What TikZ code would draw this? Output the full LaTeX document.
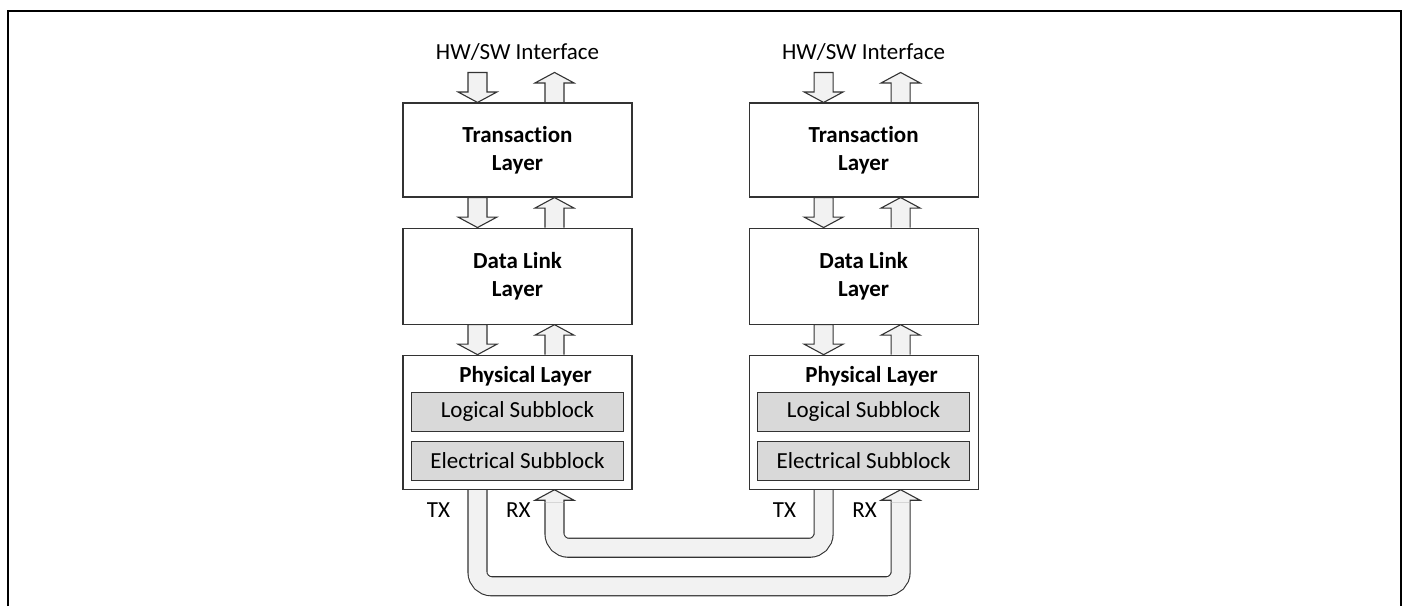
\documentclass[tikz,border=0pt]{standalone}
\usepackage{fontspec}
\setmainfont{Carlito}[Ligatures={NoCommon,NoRare}]
\usetikzlibrary{positioning,calc,backgrounds}
\definecolor{arrowfill}{HTML}{F2F2F2}
\definecolor{subfill}{HTML}{D9D9D9}

\begin{document}
\begin{tikzpicture}[x=1pt,y=1pt,font=\fontsize{11.5}{14}\selectfont,
  layer/.style={draw=black!80,line width=0.55pt,fill=white,minimum width=114.5pt,
    inner sep=0pt,align=center,font=\fontsize{11.5}{14}\selectfont\bfseries},
  subblock/.style={draw=black!80,line width=0.55pt,fill=subfill,minimum width=106pt,
    minimum height=19.5pt,inner sep=0pt},
  fatdown/.style={draw=black!80,line width=0.55pt,fill=arrowfill,
    to path={let \p1=(\tikztostart),\p2=(\tikztotarget) in
      (\x1-4.75pt,\y1) -- (\x1-4.75pt,\y2+5.25pt) -- (\x1-9.75pt,\y2+5.25pt) -- (\x1,\y2)
      -- (\x1+9.75pt,\y2+5.25pt) -- (\x1+4.75pt,\y2+5.25pt) -- (\x1+4.75pt,\y1) -- cycle}},
  fatup/.style={draw=black!80,line width=0.55pt,fill=arrowfill,
    to path={let \p1=(\tikztostart),\p2=(\tikztotarget) in
      (\x1-4.75pt,\y1) -- (\x1-4.75pt,\y2-5.25pt) -- (\x1-9.75pt,\y2-5.25pt) -- (\x1,\y2)
      -- (\x1+9.75pt,\y2-5.25pt) -- (\x1+4.75pt,\y2-5.25pt) -- (\x1+4.75pt,\y1)}},
  pipe/.style={draw=black!80,line width=0.55pt,double=arrowfill,double distance=8.95pt,
    rounded corners=7pt}]

  \useasboundingbox (0,0) rectangle (703,-303);
  \draw[line width=1.3pt] (4,-303) -- (4,-5.5) -- (700.5,-5.5) -- (700.5,-303);

  % left stack
  \node[layer,minimum height=47pt] (transL) at (258.75,-75) {Transaction\\Layer};
  \node[layer,minimum height=48pt,below=15pt of transL] (linkL) {Data Link\\Layer};
  \node[layer,minimum height=67pt,below=15pt of linkL] (phyL) {};
  \node[font=\fontsize{11.5}{14}\selectfont\bfseries] (titleL) at ([xshift=4pt,yshift=-11pt]phyL.north) {Physical Layer};
  \node[subblock,above=4.5pt of phyL.south] (elecL) {Electrical Subblock};
  \node[subblock,above=4.5pt of elecL] (logL) {Logical Subblock};
  \node[anchor=base] (hwL) at ([yshift=21.5pt]transL.north) {HW/SW Interface};
  \node (txL) at ([xshift=18pt,yshift=-10pt]phyL.south west) {TX};
  \node (rxL) at ([xshift=58pt,yshift=-10pt]phyL.south west) {RX};

  % right stack
  \node[layer,minimum height=47pt,right=58pt of transL] (transR) {Transaction\\Layer};
  \node[layer,minimum height=48pt,below=15pt of transR] (linkR) {Data Link\\Layer};
  \node[layer,minimum height=67pt,below=15pt of linkR] (phyR) {};
  \node[font=\fontsize{11.5}{14}\selectfont\bfseries] (titleR) at ([xshift=4pt,yshift=-11pt]phyR.north) {Physical Layer};
  \node[subblock,above=4.5pt of phyR.south] (elecR) {Electrical Subblock};
  \node[subblock,above=4.5pt of elecR] (logR) {Logical Subblock};
  \node[anchor=base] (hwR) at ([yshift=21.5pt]transR.north) {HW/SW Interface};
  \node (txR) at ([xshift=18pt,yshift=-10pt]phyR.south west) {TX};
  \node (rxR) at ([xshift=58pt,yshift=-10pt]phyR.south west) {RX};

  \begin{scope}[on background layer]
    \foreach \s in {L,R} {
      \draw[fatdown] ([xshift=-20pt,yshift=-6.5pt]hw\s.base) to ([xshift=-20pt]trans\s.north);
      \draw[fatup] ([xshift=18.5pt]trans\s.north) to ([xshift=18.5pt,yshift=-6.5pt]hw\s.base);
      \draw[fatdown] ([xshift=-20pt]trans\s.south) to ([xshift=-20pt]link\s.north);
      \draw[fatup] ([xshift=18.5pt]link\s.north) to ([xshift=18.5pt]trans\s.south);
      \draw[fatdown] ([xshift=-20pt]link\s.south) to ([xshift=-20pt]phy\s.north);
      \draw[fatup] ([xshift=18.5pt]phy\s.north) to ([xshift=18.5pt]link\s.south);
    }
    % TX to RX links
    \draw[pipe] ([xshift=-20pt]phyL.south) -- ++(0,-48.25) -| ([xshift=18.5pt,yshift=-6.25pt]phyR.south);
    \draw[fatup] ([xshift=18.5pt,yshift=-6.25pt]phyR.south) to ([xshift=18.5pt]phyR.south);
    \draw[pipe] ([xshift=-20pt]phyR.south) -- ++(0,-29) -| ([xshift=18.5pt,yshift=-6.25pt]phyL.south);
    \draw[fatup] ([xshift=18.5pt,yshift=-6.25pt]phyL.south) to ([xshift=18.5pt]phyL.south);
  \end{scope}

\end{tikzpicture}
\end{document}
